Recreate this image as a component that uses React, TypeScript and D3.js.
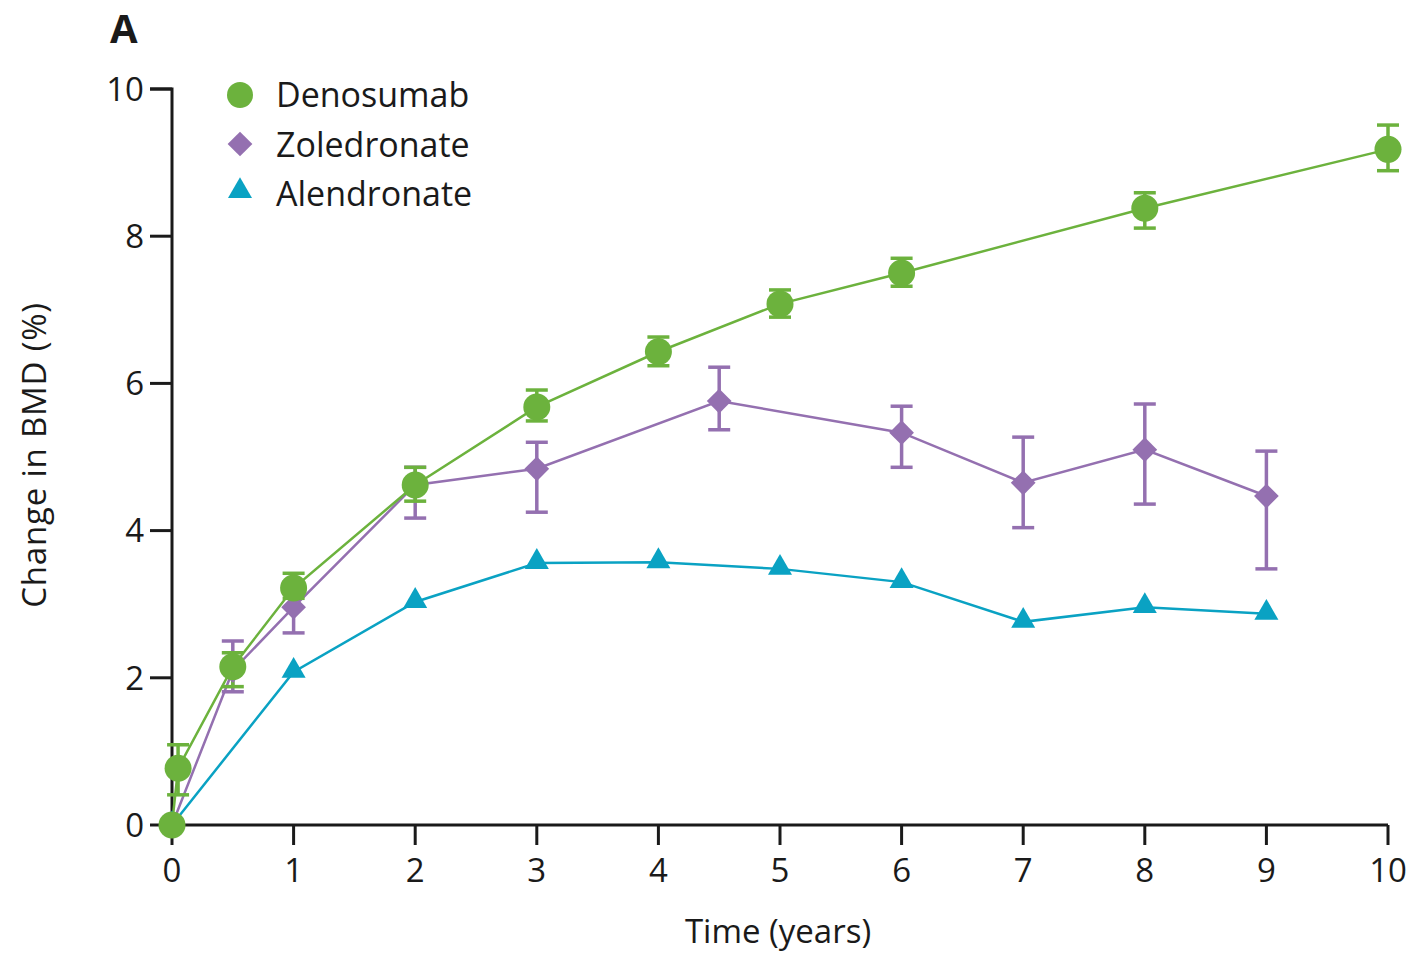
import React from "react";
import * as d3 from "d3";

const xTicks = [0, 1, 2, 3, 4, 5, 6, 7, 8, 9, 10];
const yTicks = [0, 2, 4, 6, 8, 10];

// Denosumab
const denoX = [0, 0.05, 0.5, 1, 2, 3, 4, 5, 6, 8, 10];
const denoY = [0, 0.77, 2.15, 3.22, 4.62, 5.68, 6.43, 7.08, 7.5, 8.38, 9.18];
const denoLo = [0, 0.41, 1.88, 3.08, 4.4, 5.49, 6.24, 6.9, 7.32, 8.11, 8.89];
const denoHi = [0, 1.09, 2.34, 3.42, 4.86, 5.91, 6.63, 7.27, 7.7, 8.59, 9.51];

// Zoledronate
const zolX = [0, 0.5, 1, 2, 3, 4.5, 6, 7, 8, 9];
const zolY = [0, 2.1, 2.96, 4.62, 4.84, 5.76, 5.33, 4.65, 5.1, 4.47];
const zolLo = [0, 1.81, 2.61, 4.17, 4.25, 5.37, 4.86, 4.04, 4.36, 3.48];
const zolHi = [0, 2.5, 3.3, 4.86, 5.2, 6.22, 5.69, 5.27, 5.72, 5.08];

// Alendronate
const alenX = [0, 1, 2, 3, 4, 5, 6, 7, 8, 9];
const alenY = [0, 2.08, 3.03, 3.56, 3.57, 3.48, 3.3, 2.76, 2.96, 2.87];

const GREEN = "#6cb23d";
const PURPLE = "#9470b0";
const CYAN = "#0aa2c3";
const FONT = "'Open Sans', 'Lato', sans-serif";

export default function App() {
  const x = d3.scaleLinear().domain([0, 10]).range([172, 1388]);
  const y = d3.scaleLinear().domain([0, 10]).range([825, 89]);
  const line = d3
    .line<[number, number]>()
    .x((d) => x(d[0]))
    .y((d) => y(d[1]));

  const zip = (xs: number[], ys: number[]) => xs.map((v, i) => [v, ys[i]] as [number, number]);

  const errBars = (xs: number[], lo: number[], hi: number[], color: string, key: string) =>
    xs.map((v, i) =>
      hi[i] - lo[i] > 0 ? (
        <g key={key + i} stroke={color} strokeWidth={3.5}>
          <line x1={x(v)} x2={x(v)} y1={y(lo[i])} y2={y(hi[i])} />
          <line x1={x(v) - 11} x2={x(v) + 11} y1={y(lo[i])} y2={y(lo[i])} />
          <line x1={x(v) - 11} x2={x(v) + 11} y1={y(hi[i])} y2={y(hi[i])} />
        </g>
      ) : null
    );

  const diamond = d3.symbol().type(d3.symbolDiamond2).size(390)();
  const triangle = d3.symbol().type(d3.symbolTriangle).size(250)();

  return (
    <svg
      width={1413}
      height={954}
      style={{ position: "absolute", left: 0, top: 0, background: "#fff" }}
      fontFamily={FONT}
    >
      <rect width={1413} height={954} fill="#fff" />
      <text x={110} y={43} fontSize={40} fontWeight="bold" fill="#1a1a1a">A</text>

      {/* axes */}
      <g stroke="#1a1a1a" strokeWidth={3} fill="none">
        <path d={`M${x(0) - 22},${y(10)}H${x(0)}V${y(0)}H${x(10)}`} strokeLinejoin="miter" />
        {yTicks.map((t) => (
          <line key={"yt" + t} x1={x(0) - 22} x2={x(0)} y1={y(t)} y2={y(t)} />
        ))}
        {xTicks.map((t) => (
          <line key={"xt" + t} x1={x(t)} x2={x(t)} y1={y(0)} y2={y(0) + 20} />
        ))}
      </g>
      {yTicks.map((t) => (
        <text key={"yl" + t} x={x(0) - 28} y={y(t)} dy="0.36em" textAnchor="end" fontSize={33} fill="#1a1a1a">
          {t}
        </text>
      ))}
      {xTicks.map((t) => (
        <text key={"xl" + t} x={x(t)} y={y(0) + 57} textAnchor="middle" fontSize={33} fill="#1a1a1a">
          {t}
        </text>
      ))}
      <text x={778} y={943} textAnchor="middle" fontSize={33} fill="#1a1a1a">Time (years)</text>
      <text
        transform={`translate(46,455) rotate(-90)`}
        textAnchor="middle"
        fontSize={33}
        letterSpacing={0.8}
        fill="#1a1a1a"
      >
        Change in BMD (%)
      </text>

      {/* lines */}
      <path d={line(zip(alenX, alenY)) || ""} fill="none" stroke={CYAN} strokeWidth={2.5} />
      <path d={line(zip(zolX, zolY)) || ""} fill="none" stroke={PURPLE} strokeWidth={2.5} />
      <path d={line(zip(denoX, denoY)) || ""} fill="none" stroke={GREEN} strokeWidth={2.5} />

      {/* error bars */}
      {errBars(zolX, zolLo, zolHi, PURPLE, "ze")}
      {errBars(denoX, denoLo, denoHi, GREEN, "de")}

      {/* markers */}
      {alenX.map((v, i) => (
        <path key={"am" + i} d={triangle || ""} transform={`translate(${x(v)},${y(alenY[i]) - 1})`} fill={CYAN} />
      ))}
      {zolX.map((v, i) => (
        <path key={"zm" + i} d={diamond || ""} transform={`translate(${x(v)},${y(zolY[i])})`} fill={PURPLE} />
      ))}
      {denoX.map((v, i) => (
        <circle key={"dm" + i} cx={x(v)} cy={y(denoY[i])} r={13.5} fill={GREEN} />
      ))}

      {/* legend */}
      <circle cx={240} cy={95} r={13} fill={GREEN} />
      <path d={diamond || ""} transform="translate(240,144)" fill={PURPLE} />
      <path d={triangle || ""} transform="translate(240,191)" fill={CYAN} />
      <text x={276} y={95} dy="0.36em" fontSize={34} fill="#1a1a1a">Denosumab</text>
      <text x={276} y={145} dy="0.36em" fontSize={34} fill="#1a1a1a">Zoledronate</text>
      <text x={276} y={194} dy="0.36em" fontSize={34} fill="#1a1a1a">Alendronate</text>
    </svg>
  );
}
